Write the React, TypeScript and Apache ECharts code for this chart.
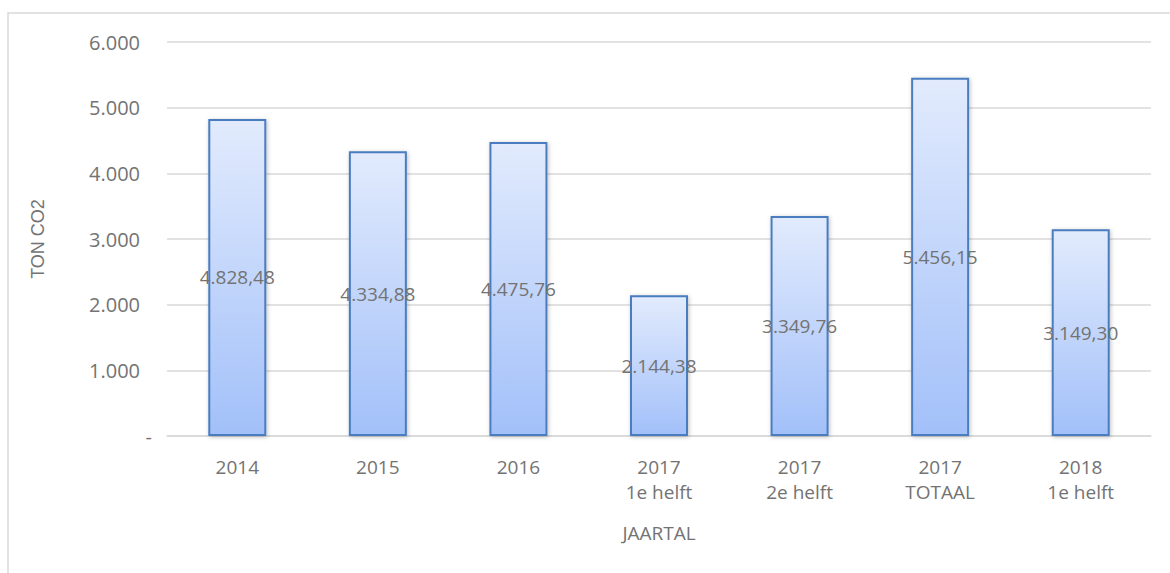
import React, { useEffect, useRef } from "react";
import * as echarts from "echarts";

const categories = ["2014", "2015", "2016", "2017\n1e helft", "2017\n2e helft", "2017\nTOTAAL", "2018\n1e helft"];
const values = [4828.48, 4334.88, 4475.76, 2144.38, 3349.76, 5456.15, 3149.3];
const yTicks = { min: 0, max: 6000, interval: 1000 };
const xAxisName = "JAARTAL";
const yAxisName = "TON CO2";

const FONT = "'Open Sans', 'Noto Sans', sans-serif";
const TEXT = "#737373";

function thousands(intPart: number): string {
  return String(intPart).replace(/\B(?=(\d{3})+(?!\d))/g, ".");
}
function fmtValue(v: number): string {
  const fixed = v.toFixed(2);
  const [i, d] = fixed.split(".");
  return thousands(Number(i)) + "," + d;
}

export default function App() {
  const ref = useRef<HTMLDivElement>(null);
  useEffect(() => {
    if (!ref.current) return;
    const chart = echarts.init(ref.current, null, { renderer: "svg" });
    chart.setOption({
      animation: false,
      backgroundColor: "#ffffff",
      graphic: [
        {
          type: "rect",
          shape: { x: 8, y: 13, width: 1300, height: 700 },
          style: { fill: "none", stroke: "#d9d9d9", lineWidth: 1.5 },
          silent: true,
          z: -1,
        },
      ],
      grid: { left: 167, right: 19, top: 42, bottom: 137, containLabel: false },
      xAxis: {
        type: "category",
        data: categories,
        name: xAxisName,
        nameLocation: "middle",
        nameGap: 87,
        nameTextStyle: { color: TEXT, fontSize: 19, fontFamily: FONT, verticalAlign: "top" },
        axisLine: { show: true, lineStyle: { color: "#d9d9d9", width: 1.5 } },
        axisTick: { show: false },
        axisLabel: {
          color: TEXT,
          fontSize: 19,
          fontFamily: FONT,
          lineHeight: 25,
          margin: 18,
          interval: 0,
        },
      },
      yAxis: {
        type: "value",
        min: yTicks.min,
        max: yTicks.max,
        interval: yTicks.interval,
        name: yAxisName,
        nameLocation: "middle",
        nameGap: 120,
        nameTextStyle: { color: TEXT, fontSize: 18, fontFamily: "'Liberation Sans', Arial, sans-serif" },
        axisLine: { show: false },
        axisTick: { show: false },
        splitLine: { lineStyle: { color: "#d9d9d9", width: 1.5 } },
        axisLabel: {
          color: TEXT,
          fontSize: 20,
          fontFamily: FONT,
          margin: 15,
          formatter: (v: number) => (v === 0 ? "{d|-}" : "{n|" + thousands(v) + "}"),
          rich: {
            n: { color: TEXT, fontSize: 20, fontFamily: FONT, padding: [0, 12, 0, 0] },
            d: { color: TEXT, fontSize: 20, fontFamily: FONT, padding: [0, 0, 0, 0] },
          },
        },
      },
      series: [
        {
          type: "bar",
          data: values,
          barWidth: 58,
          itemStyle: {
            color: new echarts.graphic.LinearGradient(0, 0, 0, 1, [
              { offset: 0, color: "#e2ebfd" },
              { offset: 1, color: "#a2c0f9" },
            ]),
            borderColor: "#4a7dc0",
            borderWidth: 2,
            shadowBlur: 4,
            shadowColor: "rgba(0,0,0,0.25)",
            shadowOffsetX: 1,
            shadowOffsetY: 1,
          },
          label: {
            show: true,
            position: "inside",
            color: TEXT,
            fontSize: 19,
            fontFamily: FONT,
            formatter: (p: any) => fmtValue(p.value),
          },
        },
      ],
    });
    return () => chart.dispose();
  }, []);
  return (
    <div
      ref={ref}
      style={{ position: "fixed", left: 0, top: 0, width: 1170, height: 573 }}
    />
  );
}
